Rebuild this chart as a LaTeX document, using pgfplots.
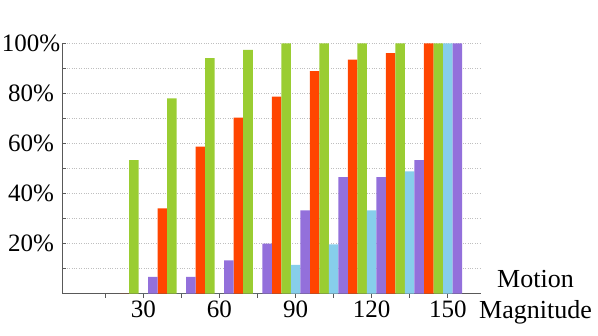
\documentclass[border=0pt]{standalone}
\usepackage{pgfplots}
\pgfplotsset{compat=1.18}
\usepackage{fontspec}
\setmainfont{Liberation Serif}
\definecolor{cOrange}{HTML}{FF4500}
\definecolor{cGreen}{HTML}{9ACD32}
\definecolor{cBlue}{HTML}{87CEEB}
\definecolor{cPurple}{HTML}{9370DB}
\begin{document}
\begin{tikzpicture}
\begin{axis}[
  scale only axis, width=419pt, height=250.4pt,
  xmin=-2.07, xmax=163.1, ymin=0, ymax=100,
  axis x line*=bottom, axis y line*=left,
  axis line style={-, gray!70!black, line width=0.6pt},
  ybar, bar width=3.75,
  xtick={15,30,...,150}, xticklabels={,30,,60,,90,,120,,150},
  ytick={0,10,...,100}, yticklabels={,,20\%,,40\%,,60\%,,80\%,,100\%},
  xtick align=outside, ytick align=inside,
  major tick length=4pt,
  tick style={gray!70!black, line width=0.6pt},
  ymajorgrids, grid style={dotted, gray!50, line width=0.5pt},
  ticklabel style={font=\fontsize{25}{30}\selectfont},
  yticklabel style={anchor=center, xshift=-31pt},
  xlabel={Motion\\Magnitude},
  xlabel style={at={(rel axis cs:1,0)}, anchor=center, xshift=54.5pt, yshift=-3.3pt, align=center, font=\fontsize{26}{31}\selectfont},
]
\addplot[fill=cOrange, draw=none, bar shift=-7.5] coordinates {
  (30,0) (45,34.1) (60,58.7) (75,70.3) (90,78.7) (105,88.9) (120,93.5) (135,96.1) (150,100)};
\addplot[fill=cGreen, draw=none, bar shift=-3.75] coordinates {
  (30,53.3) (45,78.0) (60,94.1) (75,97.4) (90,100) (105,100) (120,100) (135,100) (150,100)};
\addplot[fill=cBlue, draw=none, bar shift=0] coordinates {
  (30,0) (45,0) (60,0) (75,0) (90,11.5) (105,19.7) (120,33.3) (135,48.9) (150,100)};
\addplot[fill=cPurple, draw=none, bar shift=3.75] coordinates {
  (30,6.7) (45,6.7) (60,13.3) (75,20.0) (90,33.3) (105,46.6) (120,46.6) (135,53.3) (150,100)};
\end{axis}
\pgfresetboundingbox
\path[use as bounding box] ([xshift=-62pt,yshift=-41.3pt]current axis.south west) rectangle ([xshift=117pt,yshift=43.3pt]current axis.north east);
\end{tikzpicture}
\end{document}
